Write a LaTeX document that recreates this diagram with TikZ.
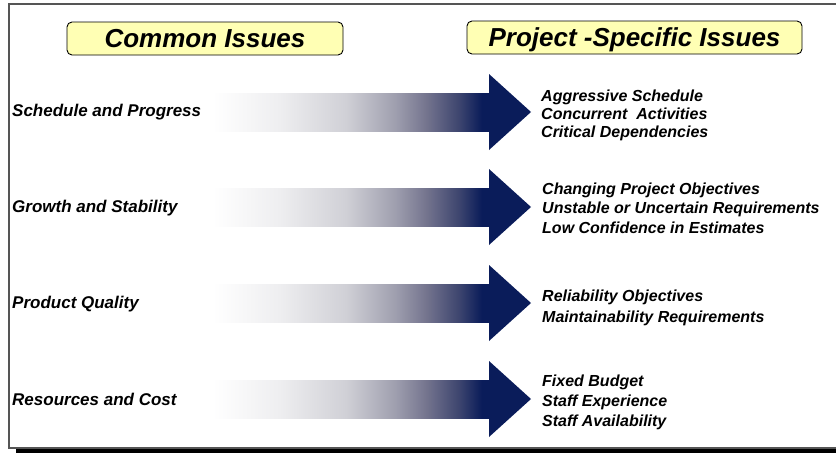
\documentclass[tikz,border=0pt]{standalone}
\usepackage{fontspec}
\setmainfont{Liberation Sans}
\definecolor{navy}{RGB}{10,28,90}
\definecolor{titlefill}{RGB}{255,255,180}
\definecolor{framegray}{RGB}{85,85,85}
\definecolor{fadeA}{RGB}{238,238,240}
\definecolor{fadeB}{RGB}{208,208,214}
\definecolor{fadeC}{RGB}{158,158,174}
\definecolor{fadeD}{RGB}{116,116,142}
\definecolor{fadeE}{RGB}{60,68,110}
% white-to-navy fade for the arrow shafts (path spans 25bp..75bp)
\pgfdeclarehorizontalshading{arrowfade}{100bp}{%
  color(0bp)=(white); color(25bp)=(white); color(37bp)=(fadeA);
  color(49bp)=(fadeB); color(58bp)=(fadeC); color(63.5bp)=(fadeD);
  color(69.5bp)=(fadeE); color(73.5bp)=(navy); color(100bp)=(navy)}
\begin{document}
\begin{tikzpicture}[x=1pt,y=-1pt,
  titlebox/.style={draw=black, line width=0.9pt, fill=titlefill, rounded corners=5pt,
    minimum height=33pt, inner sep=0pt, text height=18.5pt, text depth=0pt,
    font=\fontsize{26}{30}\selectfont\bfseries\itshape},
  issue/.style={anchor=base west, inner sep=0pt, font=\fontsize{17}{20}\selectfont\bfseries\itshape},
  detail/.style={anchor=base west, inner sep=0pt, align=left,
    font=\fontsize{16}{#1}\selectfont\bfseries\itshape},
  shaft/.style={shading=arrowfade, draw=none},
  head/.style={fill=navy, draw=none}]
\useasboundingbox (0,0) rectangle (836,453);

% page frame (open to the right) with its drop shadow
\fill[black] (16,448) rectangle (836,453);
\draw[framegray, line width=1.5pt] (836,4) -- (9,4) -- (9,448) -- (836,448);

% column headings
\node[titlebox, minimum width=276pt] (common) at (205,38.5) {Common Issues};
\node[titlebox, minimum width=335pt] (specific) at (634.5,37.5) {Project -Specific Issues};

% common issue categories
\node[issue] (sched) at (12,116) {Schedule and Progress};
\node[issue] (growth) at (12,212) {Growth and Stability};
\node[issue] (quality) at (12,308) {Product Quality};
\node[issue] (cost) at (12,405) {Resources and Cost};

% project-specific issues (anchored on the last line's baseline)
\node[detail=18] (d1) at (541,137) {Aggressive Schedule\\Concurrent\ \ Activities\\Critical Dependencies};
\node[detail=19.5] (d2) at (542,233) {Changing Project Objectives\\Unstable or Uncertain Requirements\\Low Confidence in Estimates};
\node[detail=21] (d3) at (542,322) {Reliability Objectives\\Maintainability Requirements};
\node[detail=20] (d4) at (542,426) {Fixed Budget\\Staff Experience\\Staff Availability};

% shaded arrows from each category to its issues
\foreach \c in {112,207,303,399}{
  \shade[shaft] (213,\c-19) rectangle (490,\c+19);
  \fill[head] (489,\c-38) -- (531,\c) -- (489,\c+38) -- cycle;
}
\end{tikzpicture}
\end{document}
